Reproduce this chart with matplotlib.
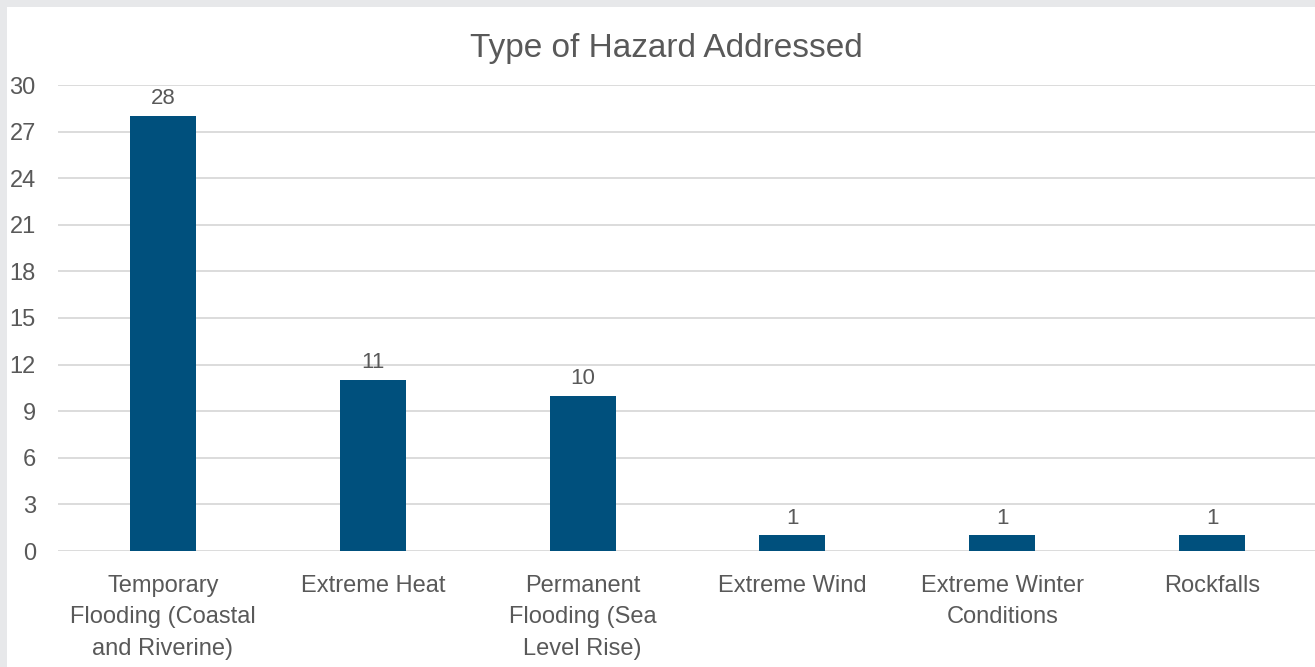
import matplotlib
matplotlib.use("Agg")
import matplotlib.pyplot as plt
from matplotlib.patches import Rectangle

categories = ["Temporary\nFlooding (Coastal\nand Riverine)", "Extreme Heat",
              "Permanent\nFlooding (Sea\nLevel Rise)", "Extreme Wind",
              "Extreme Winter\nConditions", "Rockfalls"]
values = [28, 11, 10, 1, 1, 1]
yticks = [0, 3, 6, 9, 12, 15, 18, 21, 24, 27, 30]

plt.rcParams['font.family'] = ['Liberation Sans', 'DejaVu Sans']
text_color = "#595959"
bar_color = "#00507D"

fig = plt.figure(figsize=(13.15, 6.67), dpi=100)
fig.patch.set_facecolor("#E7E8EA")
fig.patches.append(Rectangle((7/1315, 0), 1, 1 - 7/667, transform=fig.transFigure,
                             facecolor="white", edgecolor="none", zorder=-5))

ax = fig.add_axes([58/1315, 116/667, 1259/1315, 466/667])
ax.set_facecolor("none")
ax.set_zorder(2)
x = list(range(len(categories)))
bars = ax.bar(x, values, width=0.314, color=bar_color, zorder=3)
for xi, v in zip(x, values):
    ax.annotate(str(v), (xi, v), xytext=(0, 5), textcoords="offset points",
                ha="center", va="bottom", fontsize=16, color=text_color)

ax.set_xlim(-0.5, len(categories) - 0.5)
ax.set_ylim(0, 30)
ax.set_yticks(yticks)
ax.set_xticks(x)
ax.set_xticklabels(categories, fontsize=17, color=text_color, linespacing=1.57)
ax.tick_params(axis='y', labelsize=17, labelcolor=text_color, length=0, pad=16)
ax.tick_params(axis='x', length=0, pad=17)
ax.grid(axis='y', color="#D9D9D9", linewidth=1.3, zorder=0)
for s in ax.spines.values():
    s.set_visible(False)

fig.text(666/1315, 1 - 49/667, "Type of Hazard Addressed", ha="center", va="center",
         fontsize=24, color=text_color, zorder=3)

fig.savefig("out.png", dpi=100, facecolor=fig.get_facecolor())
